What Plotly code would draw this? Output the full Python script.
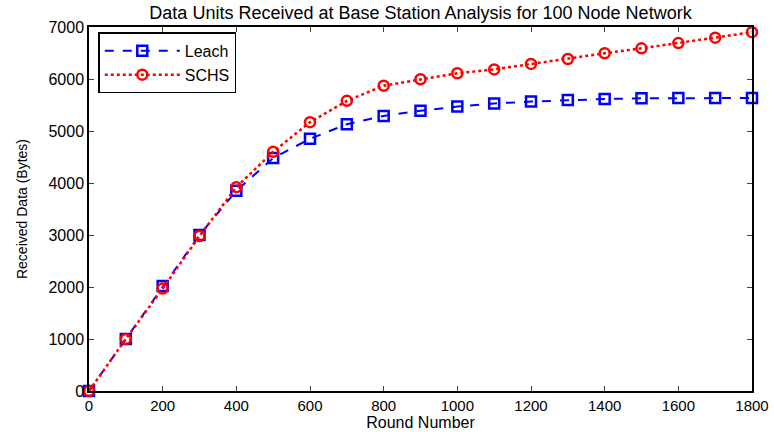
import plotly.graph_objects as go

rounds = [0, 100, 200, 300, 400, 500, 600, 700, 800, 900, 1000, 1100, 1200, 1300, 1400, 1500, 1600, 1700, 1800]
leach = [0, 1000, 2020, 3000, 3850, 4480, 4850, 5130, 5290, 5390, 5470, 5530, 5565, 5595, 5615, 5628, 5635, 5635, 5635]
schs = [0, 1000, 1970, 2980, 3920, 4600, 5170, 5580, 5870, 5995, 6110, 6185, 6290, 6385, 6495, 6590, 6690, 6795, 6900]

x_ticks = list(range(0, 1801, 200))
y_ticks = list(range(0, 7001, 1000))

fig = go.Figure()
fig.add_trace(go.Scatter(
    x=rounds, y=leach, name="Leach", mode="lines+markers",
    line=dict(color="#0000ff", width=2, dash="dash"),
    marker=dict(symbol="square-open", size=10, color="#0000ff", line=dict(width=2.5)),
    cliponaxis=False,
))
fig.add_trace(go.Scatter(
    x=rounds, y=schs, name="SCHS", mode="lines+markers",
    line=dict(color="#ff0000", width=2.5, dash="dot"),
    marker=dict(symbol="circle-open", size=10, color="#ff0000", line=dict(width=2.5)),
    cliponaxis=False,
))

fig.update_layout(
    width=774, height=432,
    margin=dict(l=89, r=22, t=27, b=41),
    paper_bgcolor="white", plot_bgcolor="white",
    font=dict(family="Liberation Sans, Arial, sans-serif", size=14, color="black"),
    title=dict(text="Data Units Received at Base Station Analysis for 100 Node Network",
               x=0.5, xref="paper", xanchor="center", y=0.97, yanchor="middle",
               font=dict(size=18)),
    showlegend=True,
    legend=dict(x=0.014, y=0.985, xanchor="left", yanchor="top",
                bordercolor="black", borderwidth=1.5, bgcolor="white",
                font=dict(size=16), itemwidth=75, tracegroupgap=0),
)
fig.update_xaxes(
    range=[0, 1800], tickvals=x_ticks, ticks="inside", ticklen=5,
    showline=True, linecolor="black", linewidth=1.5, mirror="ticks",
    showgrid=False, zeroline=False, automargin=False,
    tickfont=dict(size=15),
    title=dict(text="Round Number", font=dict(size=16), standoff=0),
)
fig.update_yaxes(
    range=[0, 7000], tickvals=y_ticks, ticks="inside", ticklen=5,
    showline=True, linecolor="black", linewidth=1.5, mirror="ticks",
    showgrid=False, zeroline=False, automargin=False,
    tickfont=dict(size=16),
    title=dict(text="Received Data (Bytes)", font=dict(size=14), standoff=18),
)

fig.write_html("out.html", config={"displayModeBar": False},
               post_script="document.body.style.margin='0';")
